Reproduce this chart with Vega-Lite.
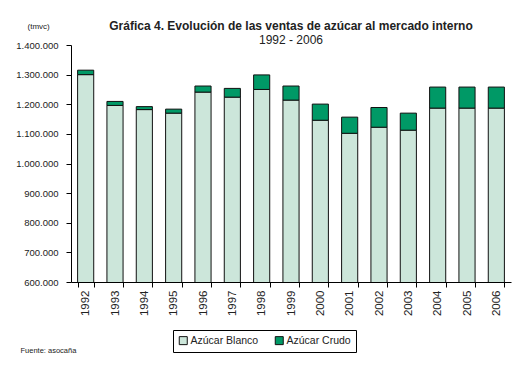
{
  "$schema": "https://vega.github.io/schema/vega-lite/v6.json",
  "autosize": "none",
  "width": 440,
  "height": 237,
  "padding": {"left": 71, "top": 45, "right": 12, "bottom": 90},
  "background": "white",
  "config": {
    "font": "Liberation Sans",
    "view": {"stroke": null},
    "axis": {"domainColor": "#000", "tickColor": "#000", "labelColor": "#222", "titleColor": "#222", "grid": false, "labelFont": "Liberation Sans", "titleFont": "Liberation Sans"}
  },
  "title": {
    "text": "Gráfica 4. Evolución de las ventas de azúcar al mercado interno",
    "subtitle": "1992 - 2006",
    "fontSize": 12,
    "fontWeight": "bold",
    "subtitleFontSize": 12,
    "subtitleColor": "#222",
    "color": "#222",
    "subtitlePadding": 2,
    "offset": -25,
    "anchor": "middle"
  },
  "data": {
    "values": [
      {"year": "1992", "tipo": "Azúcar Blanco", "orden": 1, "valor": 1300000},
      {"year": "1992", "tipo": "Azúcar Crudo", "orden": 2, "valor": 15000},
      {"year": "1993", "tipo": "Azúcar Blanco", "orden": 1, "valor": 1196000},
      {"year": "1993", "tipo": "Azúcar Crudo", "orden": 2, "valor": 13500},
      {"year": "1994", "tipo": "Azúcar Blanco", "orden": 1, "valor": 1182000},
      {"year": "1994", "tipo": "Azúcar Crudo", "orden": 2, "valor": 10000},
      {"year": "1995", "tipo": "Azúcar Blanco", "orden": 1, "valor": 1170000},
      {"year": "1995", "tipo": "Azúcar Crudo", "orden": 2, "valor": 13500},
      {"year": "1996", "tipo": "Azúcar Blanco", "orden": 1, "valor": 1241000},
      {"year": "1996", "tipo": "Azúcar Crudo", "orden": 2, "valor": 20500},
      {"year": "1997", "tipo": "Azúcar Blanco", "orden": 1, "valor": 1224000},
      {"year": "1997", "tipo": "Azúcar Crudo", "orden": 2, "valor": 29500},
      {"year": "1998", "tipo": "Azúcar Blanco", "orden": 1, "valor": 1250000},
      {"year": "1998", "tipo": "Azúcar Crudo", "orden": 2, "valor": 49000},
      {"year": "1999", "tipo": "Azúcar Blanco", "orden": 1, "valor": 1214000},
      {"year": "1999", "tipo": "Azúcar Crudo", "orden": 2, "valor": 47500},
      {"year": "2000", "tipo": "Azúcar Blanco", "orden": 1, "valor": 1146000},
      {"year": "2000", "tipo": "Azúcar Crudo", "orden": 2, "valor": 54500},
      {"year": "2001", "tipo": "Azúcar Blanco", "orden": 1, "valor": 1102000},
      {"year": "2001", "tipo": "Azúcar Crudo", "orden": 2, "valor": 54500},
      {"year": "2002", "tipo": "Azúcar Blanco", "orden": 1, "valor": 1122500},
      {"year": "2002", "tipo": "Azúcar Crudo", "orden": 2, "valor": 66500},
      {"year": "2003", "tipo": "Azúcar Blanco", "orden": 1, "valor": 1112500},
      {"year": "2003", "tipo": "Azúcar Crudo", "orden": 2, "valor": 57500},
      {"year": "2004", "tipo": "Azúcar Blanco", "orden": 1, "valor": 1187000},
      {"year": "2004", "tipo": "Azúcar Crudo", "orden": 2, "valor": 71000},
      {"year": "2005", "tipo": "Azúcar Blanco", "orden": 1, "valor": 1187000},
      {"year": "2005", "tipo": "Azúcar Crudo", "orden": 2, "valor": 71000},
      {"year": "2006", "tipo": "Azúcar Blanco", "orden": 1, "valor": 1187000},
      {"year": "2006", "tipo": "Azúcar Crudo", "orden": 2, "valor": 71000}
    ]
  },
  "mark": {"type": "bar", "clip": true, "stroke": "#111", "strokeWidth": 1},
  "encoding": {
    "x": {
      "field": "year",
      "type": "ordinal",
      "scale": {"paddingInner": 0.45, "paddingOuter": 0.225},
      "axis": {
        "title": "Fuente: asocaña",
        "titleX": -51,
        "titleY": 68,
        "titleAlign": "left",
        "titleBaseline": "middle",
        "titleAngle": 0,
        "titleFontSize": 7.5,
        "titleFontWeight": "normal",
        "labelAngle": 270,
        "labelAlign": "right",
        "labelBaseline": "middle",
        "labelFontSize": 11.5,
        "labelPadding": 3,
        "tickSize": 5,
        "tickBand": "extent",
        "domainWidth": 1
      }
    },
    "y": {
      "field": "valor",
      "type": "quantitative",
      "stack": "zero",
      "scale": {"domain": [600000, 1400000], "nice": false, "zero": false},
      "axis": {
        "title": "(tmvc)",
        "titleAngle": 0,
        "titleX": -44,
        "titleY": -19,
        "titleAlign": "left",
        "titleBaseline": "middle",
        "titleFontSize": 8,
        "titleFontWeight": "normal",
        "values": [600000, 700000, 800000, 900000, 1000000, 1100000, 1200000, 1300000, 1400000],
        "labelExpr": "replace(format(datum.value, ','), /,/g, '.')",
        "labelFontSize": 9.5,
        "labelPadding": 8,
        "tickSize": 5
      }
    },
    "color": {
      "field": "tipo",
      "type": "nominal",
      "scale": {"domain": ["Azúcar Blanco", "Azúcar Crudo"], "range": ["#cce6da", "#009966"]},
      "legend": {
        "title": null,
        "orient": "none",
        "legendX": 102,
        "legendY": 285,
        "direction": "horizontal",
        "symbolType": "square",
        "symbolSize": 64,
        "symbolStrokeColor": "#111",
        "symbolStrokeWidth": 1,
        "labelFontSize": 10.5,
        "labelColor": "#222",
        "labelOffset": 2,
        "columnPadding": 14,
        "strokeColor": "#000",
        "padding": 5
      }
    },
    "order": {"field": "orden", "type": "quantitative"}
  }
}
